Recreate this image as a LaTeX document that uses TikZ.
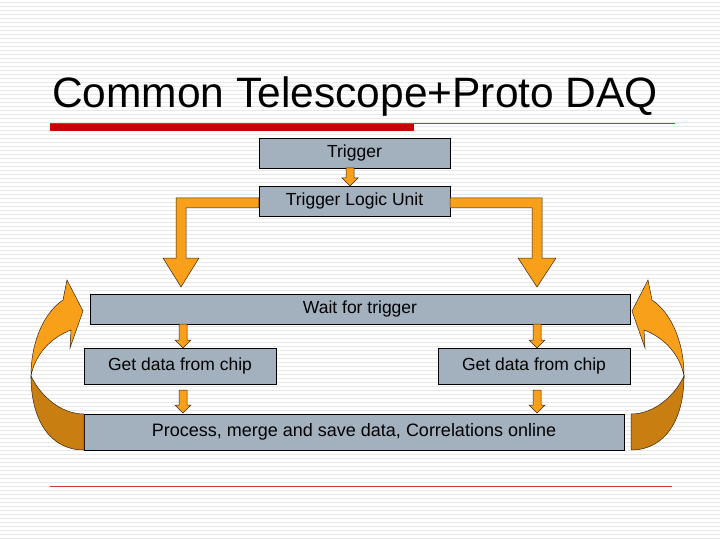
\documentclass[tikz,border=0pt]{standalone}
\usepackage{fontspec}
\setmainfont{Liberation Sans}
\definecolor{boxgray}{HTML}{A3B1BF}
\definecolor{arrorange}{HTML}{F8A01A}
\definecolor{arrdark}{HTML}{C97E12}
\definecolor{slidered}{HTML}{CC0000}
\tikzset{
  stepbox/.style={draw=black,fill=boxgray,minimum height=30pt,inner sep=0pt,font=\fontsize{17.5}{20}\selectfont},
  blockarrow/.style={draw=black!70!brown,fill=arrorange,line width=0.5pt,line join=miter}
}
\newcommand{\smallarrow}[3]{% x, top y, bottom y
  \filldraw[blockarrow] (#1-4,#2) -- (#1+4,#2) -- (#1+4,#3-8) -- (#1+8,#3-8) -- (#1,#3) -- (#1-8,#3-8) -- (#1-4,#3-8) -- cycle;}
\begin{document}
\begin{tikzpicture}[x=1pt,y=-1pt]
\useasboundingbox (0,0) rectangle (720,540);
% striped background
\fill[white] (0,0) rectangle (720,540);
\foreach \y in {2,6,...,538}
  \draw[black!9,line width=0.8pt] (0,\y) -- (720,\y);

% title
\node[anchor=base west,font=\fontsize{42.5}{45}\selectfont,inner sep=0pt] (title) at (52,108) {Common Telescope+Proto DAQ};
\draw[slidered!80,line width=0.6pt] (50,123.5) -- (675,123.5);
\fill[slidered] (50,124) rectangle (414,131);
\draw[slidered!80,line width=0.6pt] (50,486) -- (672,486);

% boxes
\node[stepbox,minimum width=191pt] (trig) at (354.5,153) {Trigger};
\node[stepbox,minimum width=191pt] (tlu) at (354.5,201) {Trigger Logic Unit};
\node[stepbox,minimum width=540pt] (wait) at (360,309) {Wait for trigger};
\node[stepbox,minimum width=192pt,minimum height=36pt] (getL) at (180,366) {Get data from chip};
\node[stepbox,minimum width=192pt,minimum height=36pt] (getR) at (534,366) {Get data from chip};
\node[stepbox,minimum width=540pt,minimum height=36pt,font=\fontsize{18}{20}\selectfont] (proc) at (354,432) {Process, merge and save data, Correlations online};

% small arrows
\smallarrow{350}{168}{186}
\smallarrow{183}{324}{348}
\smallarrow{537}{324}{348}
\smallarrow{183}{390}{413}
\smallarrow{537}{390}{413}

% split arrows from the logic unit
\filldraw[blockarrow] (tlu.west |- 0,198) -- (176,198) -- (176,258) -- (163,258) -- (181,287)
  -- (199,258) -- (186,258) -- (186,208) -- (tlu.west |- 0,208) -- cycle;
\filldraw[blockarrow] (tlu.east |- 0,198) -- (542,198) -- (542,258) -- (556,258) -- (537,287)
  -- (518,258) -- (532,258) -- (532,208) -- (tlu.east |- 0,208) -- cycle;

% loop-back arrows
\foreach \s/\xo in {1/0,-1/715}{
\begin{scope}[xshift=\xo pt,xscale=\s]
  \filldraw[blockarrow,fill=arrdark] (84,450) .. controls (50,450) and (31,420) .. (31,376)
    .. controls (40,395) and (60,414) .. (84,414) -- cycle;
  \filldraw[blockarrow] (31,376) .. controls (31,340) and (45,312) .. (63,300) -- (67,280) -- (83,311)
    -- (70,348) -- (71,330) .. controls (50,338) and (35,355) .. (31,376) -- cycle;
\end{scope}}
\end{tikzpicture}
\end{document}
